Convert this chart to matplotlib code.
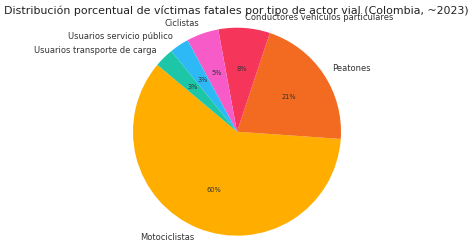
import matplotlib
matplotlib.use("Agg")
import matplotlib.pyplot as plt

categories = ["Motociclistas", "Peatones", "Conductores vehículos particulares",
              "Ciclistas", "Usuarios servicio público", "Usuarios transporte de carga"]
values = [60, 21, 8, 5, 3, 3]
colors = ["#FFAE00", "#F26B21", "#F5365A", "#F65BC8", "#2DB9F6", "#1CC6A6"]
title = "Distribución porcentual de víctimas fatales por tipo de actor vial (Colombia, ~2023)"

W, H = 474, 252
fig = plt.figure(figsize=(W / 100, H / 100), dpi=100)
cx, cy, r = 237, 131.7, 104
side = 2.5 * r
ax = fig.add_axes([(cx - side / 2) / W, (H - cy - side / 2) / H, side / W, side / H])

wedges, texts, autotexts = ax.pie(
    values, labels=categories, colors=colors, startangle=140,
    autopct="%1.0f%%", pctdistance=0.6, labeldistance=1.1,
    textprops={"fontsize": 6.0, "color": "#333333"},
)
for t in autotexts:
    t.set_fontsize(4.8)
    t.set_color("#333333")
ax.set_aspect("equal")

fig.text(236.5 / W, 1 - 14.5 / H, title, ha="center", va="baseline", fontsize=7.9, color="#222222")

fig.savefig("out.png", dpi=100)
